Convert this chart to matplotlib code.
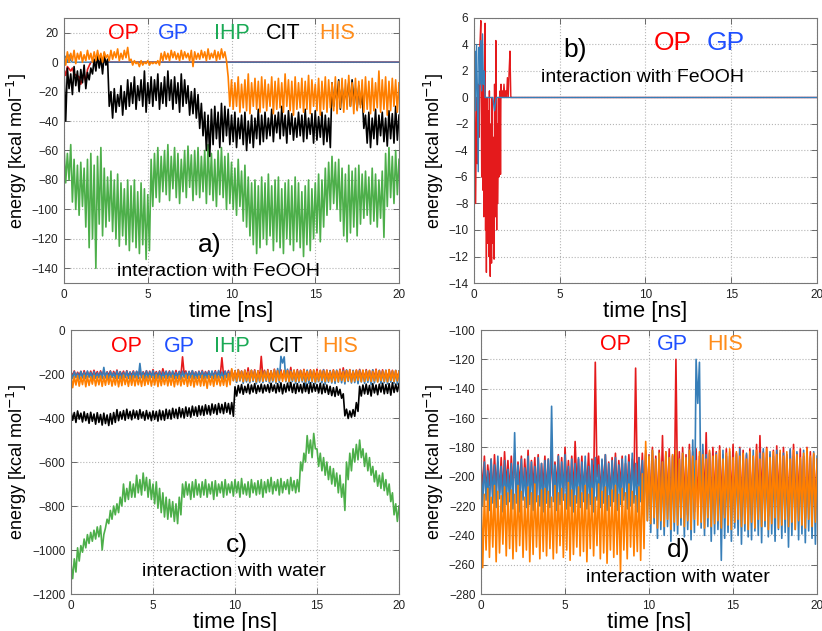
import numpy as np
import matplotlib
matplotlib.use("Agg")
import matplotlib.pyplot as plt

plt.rcParams["font.family"] = ["Liberation Sans", "DejaVu Sans"]

# ---- data (energies in kcal/mol) ----
# noisy traces are stored as band tops (*_hi, at t = 0, 0.2, ... 20 ns)
# and band bottoms (*_lo, at t = 0.1, 0.3, ... 19.9 ns)
t = np.linspace(0, 20, 201)

# a) interaction with FeOOH
op_a_t = [0, 0.1, 0.2, 0.4, 0.5, 0.6, 0.9, 1.0, 1.2, 1.3, 1.4, 1.6, 20]
op_a = [-5, -9, -3, -6, -4, -8, -10, -15, -8, -14, -5, 0, 0]
gp_a_t = [0, 0.1, 0.2, 0.3, 0.4, 0.5, 20]
gp_a = [2, 4, 0, 5, 1, 0, 0]

ihp_a_hi = [-58, -62, -56, -66, -70, -68, -72, -66, -62, -70,
            -64, -58, -72, -78, -74, -80, -76, -82, -86, -80,
            -84, -80, -88, -82, -86, -90, -66, -62, -58, -64,
            -60, -56, -64, -58, -62, -66, -60, -57, -63, -60,
            -58, -64, -60, -56, -62, -66, -60, -58, -64, -62,
            -68, -72, -66, -74, -70, -78, -82, -80, -84, -78,
            -82, -76, -84, -80, -78, -86, -82, -80, -84, -78,
            -82, -88, -84, -80, -86, -82, -76, -80, -72, -68,
            -64, -68, -66, -72, -76, -70, -74, -72, -70, -76,
            -74, -78, -72, -76, -80, -74, -62, -58, -64, -60,
            -66]
ihp_a_lo = [-82, -80, -95, -100, -104, -98, -112, -126, -120, -140,
            -110, -118, -112, -108, -115, -120, -125, -118, -124, -128,
            -122, -126, -130, -124, -134, -128, -98, -92, -95, -88,
            -90, -94, -86, -92, -96, -88, -92, -85, -94, -90,
            -92, -88, -96, -90, -94, -98, -90, -92, -100, -96,
            -100, -104, -98, -108, -112, -118, -124, -130, -126, -120,
            -124, -118, -128, -122, -126, -130, -120, -124, -128, -122,
            -126, -132, -124, -128, -120, -116, -122, -112, -104, -100,
            -96, -100, -108, -118, -122, -116, -112, -118, -110, -106,
            -104, -110, -108, -112, -106, -119, -98, -92, -96, -90]

cit_a_hi = [-6, -4, -8, -3, -6, -5, -2, -7, -4, 2,
            5, 3, 6, 2, -20, -18, -22, -16, -20, -12,
            -14, -10, -16, -12, -6, -14, -10, -12, -8, -14,
            -10, -6, -12, -10, -14, -8, -12, -16, -20, -18,
            -22, -28, -34, -36, -32, -30, -34, -28, -30, -32,
            -36, -34, -38, -36, -34, -40, -36, -38, -32, -36,
            -34, -38, -32, -36, -34, -30, -36, -33, -35, -38,
            -34, -36, -32, -38, -35, -33, -37, -34, -36, -38,
            -14, -18, -12, -16, -20, -14, -12, -18, -16, -20,
            -36, -34, -38, -32, -36, -34, -38, -33, -35, -30,
            -36]
cit_a_lo = [-40, -18, -22, -16, -20, -14, -18, -12, -8, -6,
            -4, -8, -2, -30, -38, -34, -30, -36, -32, -30,
            -28, -32, -26, -30, -34, -28, -30, -26, -32, -28,
            -30, -26, -32, -28, -34, -30, -28, -36, -35, -38,
            -45, -50, -60, -64, -56, -52, -58, -54, -50, -56,
            -54, -58, -52, -56, -60, -55, -58, -52, -56, -54,
            -52, -50, -54, -48, -52, -50, -55, -49, -53, -51,
            -50, -54, -52, -49, -55, -53, -51, -56, -54, -58,
            -30, -26, -32, -28, -25, -30, -27, -32, -29, -45,
            -55, -58, -52, -56, -50, -54, -57, -52, -55, -53]

his_a_hi = [5, 7, 6, 8, 6, 7, 5, 8, 6, 7,
            8, 6, 7, 5, 8, 7, 9, 6, 8, 10,
            2, 1, 0, 1, 0, 1, 0, 0, 1, 6,
            7, 6, 8, 7, 6, 8, 7, 6, 8, 7,
            6, 8, 7, 9, 6, 8, 7, 9, 7, -10,
            -12, -14, -10, -15, -12, -8, -14, -11, -13, -10,
            -12, -15, -10, -13, -11, -14, -8, -12, -13, -10,
            -14, -11, -13, -9, -12, -15, -11, -13, -10, -12,
            -14, -10, -13, -11, -12, -9, -14, -11, -13, -12,
            -10, -13, -11, -14, -6, -12, -10, -13, -11, -12,
            -14]
his_a_lo = [-2, 0, 1, -1, 2, 0, 1, 2, 0, 1,
            2, 0, 3, 1, 2, 3, 1, 2, 3, 1,
            -2, -1, -3, -2, -1, -2, -1, -1, -2, 1,
            2, 1, 3, 2, 1, 2, 3, 1, -3, 2,
            2, 3, 1, 2, 3, 1, 2, 3, 1, -30,
            -32, -30, -34, -31, -33, -35, -30, -32, -34, -31,
            -33, -30, -35, -32, -31, -34, -30, -33, -36, -32,
            -31, -34, -32, -35, -30, -33, -36, -32, -34, -31,
            -33, -35, -31, -34, -32, -30, -35, -33, -31, -34,
            -32, -35, -33, -31, -34, -32, -36, -33, -30, -34]

# b) interaction with FeOOH (OP, GP only)
op_b_t = np.concatenate([np.arange(0, 0.5, 0.05), np.linspace(0.5, 1.6, 45),
                         np.arange(1.65, 2.21, 0.05), [20]])
op_b = [-12, -1, -8, 0, -5, 1, -3, 4, 5.8, -6,
        2, -7, 1, -9, 0, -6, 5.6, -10, -2, -13.2,
        0, -8, -11, -1, -5, -12, 0.5, -9, -13.5, -2,
        -7, -12.5, 0, -10, -11, -3, -8, -12.2, 1, -6,
        -9, 4.3, -4, -10, -2, -8, -5.8, 0, -6, -1,
        -4, 0.5, -5.8, 1, 0,
        0.5, 0, 1, 0, 0.5, 0, 1.5, 0, 2, 3.5, 0, 0,
        0]
gp_b_t = [0, 0.05, 0.1, 0.15, 0.2, 0.25, 0.3, 0.35, 0.4, 0.45,
          0.5, 0.55, 0.6, 0.65, 0.7, 1.1, 1.2, 1.3, 20]
gp_b = [1, 3.5, -1, 4, 0.5, -5.6, 3.8, 1, 4.3, 0.5,
        4.8, 1, 2, 0, 0, 0, -1, 0, 0]

# c) and d) interaction with water (d is a zoom of the same runs)
op_w_hi = [-190, -186, -192, -188, -185, -190, -187, -183, -189, -186,
           -184, -190, -186, -188, -182, -189, -187, -185, -191, -186,
           -188, -184, -190, -185, -187, -180, -189, -186, -176, -188,
           -186, -190, -184, -188, -122, -186, -189, -185, -190, -187,
           -184, -189, -186, -191, -185, -188, -126, -187, -184, -182,
           -185, -180, -186, -182, -172, -184, -181, -186, -120, -183,
           -180, -185, -178, -183, -181, -186, -182, -170, -184, -180,
           -183, -179, -185, -181, -186, -178, -184, -180, -182, -185,
           -181, -186, -178, -172, -183, -180, -185, -182, -179, -184,
           -180, -185, -182, -178, -184, -181, -186, -180, -183, -185,
           -188]
op_w_lo = [-210, -212, -206, -214, -208, -211, -213, -207, -212, -209,
           -211, -206, -213, -209, -212, -208, -214, -210, -207, -212,
           -209, -213, -207, -211, -214, -208, -210, -213, -206, -211,
           -212, -208, -214, -210, -200, -213, -207, -211, -214, -209,
           -211, -207, -213, -209, -212, -208, -205, -211, -214, -220,
           -222, -218, -225, -220, -224, -219, -226, -221, -215, -223,
           -220, -226, -218, -224, -221, -227, -219, -223, -225, -220,
           -224, -219, -226, -222, -218, -225, -221, -227, -220, -223,
           -226, -220, -224, -218, -223, -227, -221, -225, -219, -224,
           -222, -227, -220, -225, -219, -224, -228, -221, -226, -222]

gp_w_hi = [-194, -190, -196, -188, -192, -186, -193, -189, -195, -191,
           -170, -192, -188, -194, -186, -190, -193, -187, -191, -189,
           -188, -152, -192, -186, -190, -185, -193, -188, -191, -187,
           -190, -186, -193, -189, -187, -192, -188, -185, -191, -189,
           -187, -192, -188, -186, -190, -184, -191, -187, -189, -185,
           -186, -182, -188, -184, -190, -183, -187, -185, -182, -188,
           -184, -187, -182, -175, -120, -122, -178, -185, -183, -187,
           -184, -188, -182, -186, -183, -189, -185, -181, -187, -184,
           -186, -182, -188, -184, -181, -187, -183, -186, -182, -188,
           -184, -187, -181, -186, -183, -188, -182, -185, -187, -183,
           -186]
gp_w_lo = [-220, -216, -223, -218, -221, -215, -224, -219, -217, -222,
           -218, -224, -216, -221, -219, -223, -217, -220, -224, -218,
           -221, -217, -223, -219, -216, -222, -220, -224, -218, -221,
           -217, -222, -219, -224, -216, -221, -218, -223, -220, -217,
           -223, -219, -216, -222, -220, -218, -224, -217, -221, -230,
           -238, -232, -242, -236, -240, -234, -244, -237, -239, -233,
           -241, -236, -243, -238, -150, -235, -240, -234, -244, -239,
           -236, -257, -242, -238, -244, -235, -240, -246, -237, -241,
           -243, -237, -240, -245, -234, -241, -239, -244, -236, -242,
           -238, -248, -240, -236, -243, -239, -245, -237, -242, -246]

his_w_hi = [-205, -212, -208, -214, -206, -210, -213, -207, -211, -209,
            -212, -206, -210, -214, -207, -211, -205, -213, -209, -208,
            -210, -214, -206, -211, -208, -212, -204, -209, -213, -207,
            -211, -206, -212, -208, -214, -205, -210, -207, -213, -209,
            -206, -212, -208, -211, -205, -210, -213, -207, -198, -176,
            -186, -182, -188, -184, -190, -183, -187, -185, -182, -188,
            -184, -187, -182, -186, -189, -183, -185, -188, -182, -186,
            -185, -182, -188, -184, -181, -187, -183, -186, -184, -188,
            -183, -186, -182, -188, -184, -181, -187, -183, -185, -182,
            -186, -183, -188, -182, -185, -187, -184, -181, -186, -184,
            -188]
his_w_lo = [-262, -250, -255, -248, -258, -252, -246, -254, -249, -256,
            -251, -247, -255, -250, -258, -253, -248, -256, -251, -254,
            -249, -256, -252, -247, -255, -250, -257, -253, -248, -254,
            -251, -258, -249, -254, -247, -256, -252, -259, -250, -255,
            -253, -265, -250, -256, -248, -254, -251, -257, -249, -230,
            -232, -228, -235, -230, -234, -229, -236, -231, -233, -228,
            -234, -230, -236, -229, -233, -231, -235, -228, -234, -232,
            -230, -235, -228, -233, -236, -231, -229, -234, -232, -236,
            -231, -235, -229, -234, -230, -236, -232, -228, -235, -233,
            -229, -234, -231, -236, -230, -233, -235, -229, -234, -231]

cit_w_hi = [-370, -375, -368, -378, -372, -380, -374, -382, -376, -384,
            -378, -386, -380, -375, -362, -372, -366, -360, -370, -364,
            -368, -362, -372, -366, -374, -368, -370, -364, -368, -360,
            -364, -356, -360, -352, -358, -350, -354, -346, -350, -344,
            -346, -340, -344, -336, -340, -334, -338, -330, -334, -330,
            -258, -252, -248, -256, -246, -250, -244, -252, -246, -250,
            -248, -242, -250, -244, -240, -248, -242, -238, -246, -244,
            -248, -242, -246, -240, -244, -248, -242, -246, -250, -256,
            -262, -258, -270, -290, -360, -368, -362, -330, -256, -250,
            -246, -252, -244, -250, -246, -242, -248, -244, -240, -246,
            -244]
cit_w_lo = [-410, -420, -405, -418, -412, -424, -415, -428, -420, -432,
            -425, -434, -428, -420, -412, -405, -410, -402, -408, -400,
            -406, -400, -410, -404, -412, -406, -414, -408, -410, -402,
            -405, -398, -402, -396, -400, -392, -396, -388, -392, -386,
            -388, -382, -386, -378, -384, -376, -380, -374, -382, -392,
            -300, -286, -292, -284, -290, -282, -288, -280, -286, -278,
            -284, -278, -286, -280, -290, -282, -276, -284, -288, -280,
            -286, -280, -288, -282, -278, -286, -290, -284, -292, -298,
            -302, -296, -310, -390, -402, -396, -392, -370, -300, -290,
            -292, -300, -286, -294, -282, -290, -288, -296, -284, -280]

ihp_w_hi = [-1060, -1040, -990, -980, -950, -930, -920, -910, -895, -890,
            -930, -860, -820, -800, -790, -760, -700, -720, -690, -700,
            -660, -680, -650, -670, -680, -700, -690, -720, -740, -760,
            -770, -780, -790, -760, -700, -690, -700, -690, -680, -700,
            -690, -680, -700, -690, -685, -700, -690, -680, -700, -690,
            -680, -690, -675, -700, -690, -680, -695, -685, -680, -690,
            -680, -670, -690, -680, -675, -690, -680, -670, -685, -680,
            -600, -560, -480, -500, -470, -540, -560, -580, -600, -620,
            -630, -650, -660, -700, -600, -560, -540, -520, -500, -540,
            -560, -580, -620, -640, -660, -650, -680, -700, -740, -790,
            -800]
ihp_w_lo = [-1130, -1100, -1050, -1010, -990, -970, -960, -950, -940, -1000,
            -900, -880, -860, -840, -830, -800, -780, -770, -760, -760,
            -740, -750, -730, -760, -770, -790, -810, -830, -850, -860,
            -850, -870, -880, -840, -760, -750, -770, -760, -750, -760,
            -750, -760, -745, -770, -755, -740, -760, -750, -740, -755,
            -740, -760, -745, -750, -760, -740, -750, -745, -760, -740,
            -735, -745, -730, -750, -740, -725, -745, -730, -740, -735,
            -640, -600, -560, -580, -540, -620, -640, -660, -680, -700,
            -710, -740, -760, -820, -680, -640, -600, -590, -580, -620,
            -640, -660, -690, -710, -720, -730, -750, -780, -840, -870]


def trace(hi, lo):
    # interleave band tops and bottoms into one noisy trace
    y = np.empty(len(hi) + len(lo))
    y[0::2] = hi
    y[1::2] = lo
    return y


# line colours and legend-text colours
c_op, c_gp, c_ihp, c_cit, c_his = "#e41a1c", "#377eb8", "#4daf4a", "black", "#ff7f00"
tc_op, tc_gp, tc_ihp, tc_cit, tc_his = "#ff0000", "#1f4fff", "#1aaa55", "black", "#ff8c1a"

fig = plt.figure(figsize=(8.22, 6.31), dpi=100)
ax_a = fig.add_axes([0.0779, 0.5515, 0.4075, 0.42])
ax_b = fig.add_axes([0.5766, 0.5515, 0.4173, 0.42])
ax_c = fig.add_axes([0.0864, 0.0586, 0.399, 0.4184])
ax_d = fig.add_axes([0.5852, 0.0586, 0.4088, 0.4184])

lw = 1.2

# a)
ax_a.plot(op_a_t, op_a, color=c_op, lw=lw)
ax_a.plot(gp_a_t, gp_a, color=c_gp, lw=1.0)
ax_a.plot(t, trace(ihp_a_hi, ihp_a_lo), color=c_ihp, lw=lw)
ax_a.plot(t, trace(cit_a_hi, cit_a_lo), color=c_cit, lw=lw)
ax_a.plot(t, trace(his_a_hi, his_a_lo), color=c_his, lw=lw)
ax_a.set_ylim(-150, 30)
ax_a.set_yticks(np.arange(-140, 21, 20))

# b)
ax_b.plot(op_b_t, op_b, color=c_op, lw=1.0)
ax_b.plot(gp_b_t, gp_b, color=c_gp, lw=1.0)
ax_b.set_ylim(-14, 6)
ax_b.set_yticks(np.arange(-14, 7, 2))

# c)
op_w = trace(op_w_hi, op_w_lo)
gp_w = trace(gp_w_hi, gp_w_lo)
his_w = trace(his_w_hi, his_w_lo)
ax_c.plot(t, op_w, color=c_op, lw=lw)
ax_c.plot(t, gp_w, color=c_gp, lw=lw)
ax_c.plot(t, trace(ihp_w_hi, ihp_w_lo), color=c_ihp, lw=lw)
ax_c.plot(t, trace(cit_w_hi, cit_w_lo), color=c_cit, lw=lw)
ax_c.plot(t, his_w, color=c_his, lw=lw)
ax_c.set_ylim(-1200, 0)
ax_c.set_yticks(np.arange(-1200, 1, 200))

# d)
ax_d.plot(t, op_w, color=c_op, lw=lw)
ax_d.plot(t, gp_w, color=c_gp, lw=lw)
ax_d.plot(t, his_w, color=c_his, lw=lw)
ax_d.set_ylim(-280, -100)
ax_d.set_yticks(np.arange(-280, -99, 20))

for ax in (ax_a, ax_b, ax_c, ax_d):
    ax.set_xlim(0, 20)
    ax.set_xticks([0, 5, 10, 15, 20])
    ax.grid(True, linestyle=":", color="#b5b5b5", linewidth=0.8)
    ax.tick_params(direction="in", top=True, right=True, length=4, width=0.6,
                   color="#555555", labelsize=8.5, labelcolor="#222222", pad=4)
    for s in ax.spines.values():
        s.set_color("#777777")
        s.set_linewidth(0.8)
    ax.set_xlabel("time [ns]", fontsize=16, labelpad=0)
    ax.set_ylabel("energy [kcal mol$^{-1}$]", fontsize=13, labelpad=2)


# legend-like coloured labels
def names(ax, xs, y, labels, colors, size):
    for x, lab, col in zip(xs, labels, colors):
        ax.text(x, y, lab, color=col, fontsize=size, ha="center", va="center",
                transform=ax.transAxes)


names(ax_a, [0.176, 0.326, 0.50, 0.654, 0.815], 0.943,
      ["OP", "GP", "IHP", "CIT", "HIS"], [tc_op, tc_gp, tc_ihp, tc_cit, tc_his], 15.5)
names(ax_b, [0.58, 0.735], 0.906, ["OP", "GP"], [tc_op, tc_gp], 19)
names(ax_c, [0.168, 0.33, 0.49, 0.655, 0.82], 0.936,
      ["OP", "GP", "IHP", "CIT", "HIS"], [tc_op, tc_gp, tc_ihp, tc_cit, tc_his], 15.5)
names(ax_d, [0.40, 0.568, 0.726], 0.947, ["OP", "GP", "HIS"], [tc_op, tc_gp, tc_his], 15.5)

# panel tags
for ax, tag, pos, desc, dpos in [
        (ax_a, "a)", (0.436, 0.143), "interaction with FeOOH", (0.46, 0.042)),
        (ax_b, "b)", (0.294, 0.879), "interaction with FeOOH", (0.49, 0.777)),
        (ax_c, "c)", (0.507, 0.186), "interaction with water", (0.497, 0.087)),
        (ax_d, "d)", (0.589, 0.167), "interaction with water", (0.586, 0.061))]:
    ax.text(pos[0], pos[1], tag, fontsize=19, ha="center", va="center", transform=ax.transAxes)
    ax.text(dpos[0], dpos[1], desc, fontsize=14, ha="center", va="center", transform=ax.transAxes)

fig.savefig("out.png", dpi=100)
